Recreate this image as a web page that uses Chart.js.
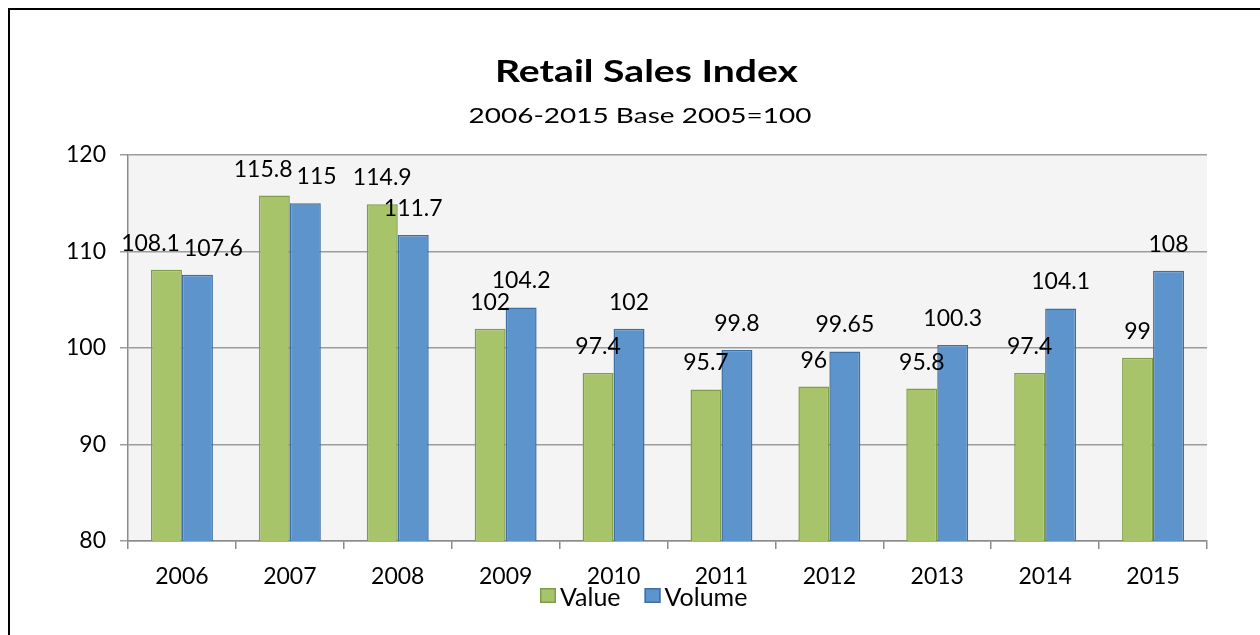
<!DOCTYPE html>
<html><head><meta charset="utf-8">
<script src="https://cdn.jsdelivr.net/npm/chart.js@4.4.1/dist/chart.umd.min.js"></script>
<style>
html,body{margin:0;padding:0;background:#fff;}
#wrap{position:relative;width:1260px;height:635px;overflow:hidden;background:#fff;}
#frame{position:absolute;left:8px;top:8px;width:1300px;height:700px;border:2px solid #000;box-sizing:border-box;}
canvas{position:absolute;left:0;top:0;}
</style></head><body>
<div id="wrap"><div id="frame"></div><canvas id="c" width="1260" height="635"></canvas></div>
<script>
const years = ['2006','2007','2008','2009','2010','2011','2012','2013','2014','2015'];
const valueSeries = [108.1,115.8,114.9,102,97.4,95.7,96,95.8,97.4,99];
const volumeSeries = [107.6,115,111.7,104.2,102,99.8,99.65,100.3,104.1,108];
const yTicks = [80,90,100,110,120];
const seriesNames = ['Value','Volume'];
const chartTitle = 'Retail Sales Index';
const chartSubtitle = '2006-2015 Base 2005=100';

const FONT = 'Lato';
const colors = {
  valueFill:'#a7c46a', valueBorder:'#7f9d48',
  volumeFill:'#5d94cc', volumeBorder:'#3e6fa3'
};

const bgPlugin = {
  id:'plotBg',
  beforeDraw(chart){
    const {ctx, chartArea:a} = chart;
    ctx.save();
    ctx.fillStyle = '#f4f4f4';
    ctx.fillRect(a.left, a.top, a.right-a.left, a.bottom-a.top);
    ctx.restore();
  }
};

const labelPlugin = {
  id:'barLabels',
  afterDatasetsDraw(chart){
    const c = chart.ctx;
    c.save();
    c.font = '23px ' + FONT;
    const items = [];
    chart.data.datasets.forEach((ds, di) => {
      const meta = chart.getDatasetMeta(di);
      meta.data.forEach((bar, i) => {
        const txt = String(ds.data[i]);
        const w = c.measureText(txt).width;
        items.push({txt, x:bar.x, y:bar.y - 19, w, h:17});
      });
    });
    for (let iter = 0; iter < 30; iter++) {
      let moved = false;
      for (let a = 0; a < items.length; a++) {
        for (let b = a + 1; b < items.length; b++) {
          const A = items[a], B = items[b];
          if (Math.abs(A.y - B.y) >= A.h + 2) continue;
          const need = (A.w + B.w) / 2 + 4;
          const dx = B.x - A.x;
          if (Math.abs(dx) < need - 0.01) {
            const push = (need - Math.abs(dx)) / 2;
            const s = dx >= 0 ? 1 : -1;
            A.x -= s * push; B.x += s * push; moved = true;
          }
        }
      }
      if (!moved) break;
    }
    c.textAlign = 'center';
    c.textBaseline = 'alphabetic';
    c.fillStyle = '#000';
    items.forEach(it => c.fillText(it.txt, it.x, it.y));
    c.restore();
  }
};

function stretchedText(c, txt, cx, baseline, targetW){
  const w = c.measureText(txt).width;
  const sx = targetW / w;
  c.save();
  c.translate(cx, baseline);
  c.scale(sx, 1);
  c.textAlign = 'center';
  c.fillText(txt, 0, 0);
  c.restore();
}

const textPlugin = {
  id:'texts',
  afterDraw(chart){
    const c = chart.ctx;
    c.save();
    c.fillStyle = '#000';
    c.textBaseline = 'alphabetic';
    c.font = 'bold 30px ' + FONT;
    stretchedText(c, chartTitle, 646.5, 82, 303);
    c.font = '22px ' + FONT;
    stretchedText(c, chartSubtitle, 640, 123, 343);

    // legend
    c.font = '25px ' + FONT;
    const fills = [colors.valueFill, colors.volumeFill];
    const borders = [colors.valueBorder, colors.volumeBorder];
    const boxW = 16, boxH = 15, gapTxt = 4, gapItem = 24;
    let x = 540;
    c.textAlign = 'left';
    seriesNames.forEach((n,i) => {
      c.fillStyle = fills[i];
      c.fillRect(x, 588, boxW, boxH);
      c.strokeStyle = borders[i];
      c.lineWidth = 1.5;
      c.strokeRect(x+0.75, 588.75, boxW-1.5, boxH-1.5);
      c.fillStyle = '#000';
      c.fillText(n, x + boxW + gapTxt, 606);
      x += boxW + gapTxt + c.measureText(n).width + gapItem;
    });
    c.restore();
  }
};

function build(){
  const ctx = document.getElementById('c').getContext('2d');
  new Chart(ctx, {
    type:'bar',
    data:{
      labels: years,
      datasets:[
        {label: seriesNames[0], data: valueSeries, backgroundColor: colors.valueFill, borderColor: colors.valueBorder, borderWidth: 1.5, categoryPercentage: 0.574, barPercentage: 1},
        {label: seriesNames[1], data: volumeSeries, backgroundColor: colors.volumeFill, borderColor: colors.volumeBorder, borderWidth: 1.5, categoryPercentage: 0.574, barPercentage: 1}
      ]
    },
    options:{
      responsive:false,
      animation:false,
      devicePixelRatio:1,
      layout:{padding:{top:155, right:53, bottom:0, left:0}},
      plugins:{legend:{display:false}, title:{display:false}, tooltip:{enabled:false}},
      scales:{
        x:{
          grid:{offset:true, drawOnChartArea:false, drawTicks:true, tickLength:8, color:'#8c8c8c', lineWidth:1.5},
          border:{color:'#8c8c8c', width:1.5},
          ticks:{font:{family:FONT, size:23}, color:'#000', padding:14},
          afterFit(s){ s.height = 94; }
        },
        y:{
          min:80, max:120,
          afterBuildTicks(s){ s.ticks = yTicks.map(v => ({value:v})); },
          grid:{color:'#9c9c9c', lineWidth:1.5, tickLength:8},
          border:{color:'#8c8c8c', width:1.5},
          ticks:{font:{family:FONT, size:23}, color:'#000', padding:14},
          afterFit(s){ s.width = 128; }
        }
      }
    },
    plugins:[bgPlugin, labelPlugin, textPlugin]
  });
}
Promise.all([
  document.fonts.load('23px Lato'),
  document.fonts.load('bold 30px Lato')
]).then(build, build);
</script>
</body></html>
